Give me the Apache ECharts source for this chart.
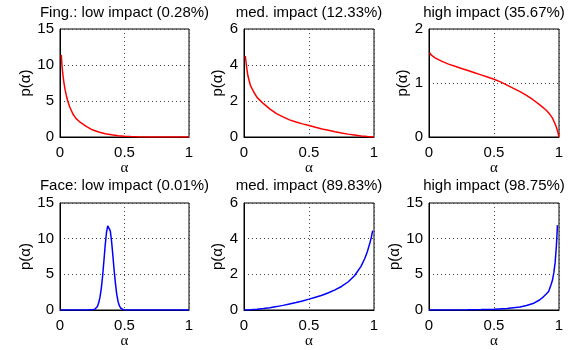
<!DOCTYPE html>
<html>
<head>
<meta charset="utf-8">
<script src="https://cdn.jsdelivr.net/npm/echarts@6/dist/echarts.min.js"></script>
<style>
html,body{margin:0;padding:0;background:#fff;}
#chart{width:582px;height:350px;}
</style>
</head>
<body>
<div id="chart"></div>
<script>
// ---- Data ----
const titles = [
  "Fing.: low impact (0.28%)", "med. impact (12.33%)", "high impact (35.67%)",
  "Face: low impact (0.01%)", "med. impact (89.83%)", "high impact (98.75%)"
];
const xTickValues = [0, 0.5, 1];
const yMaxes = [15, 6, 2, 15, 6, 15];
const yIntervals = [5, 2, 1, 5, 2, 5];
const yLabel = "p(α)";
const xLabel = "α";

// Fingerprint, low impact
const fingLowAlpha = [0.01,0.015,0.02,0.03,0.04,0.05,0.06,0.075,0.1,0.125,0.15,0.2,0.25,0.3,0.35,0.4,0.45,0.5,0.55,0.6,0.7,0.8,0.9,1.0];
const fingLowP     = [11.4,10.0,9.0,7.6,6.5,5.7,5.0,4.2,3.2,2.55,2.15,1.5,1.0,0.7,0.46,0.3,0.18,0.11,0.065,0.035,0.01,0.002,0,0];
// Fingerprint, medium impact
const fingMedAlpha = [0.01,0.02,0.03,0.05,0.075,0.1,0.15,0.2,0.25,0.3,0.35,0.4,0.45,0.5,0.55,0.6,0.65,0.7,0.75,0.8,0.85,0.9,0.95,0.99,1.0];
const fingMedP     = [4.5,3.9,3.4,2.85,2.5,2.2,1.85,1.55,1.3,1.12,0.95,0.83,0.73,0.64,0.54,0.45,0.37,0.29,0.22,0.16,0.11,0.06,0.025,0.003,0];
// Fingerprint, high impact
const fingHighAlpha = [0.005,0.02,0.05,0.1,0.15,0.2,0.25,0.3,0.35,0.4,0.45,0.5,0.55,0.6,0.65,0.7,0.75,0.8,0.85,0.9,0.93,0.95,0.97,0.98,0.99,1.0];
const fingHighP     = [1.56,1.51,1.46,1.40,1.35,1.31,1.27,1.23,1.19,1.15,1.11,1.07,1.02,0.96,0.90,0.84,0.77,0.69,0.60,0.50,0.42,0.35,0.24,0.18,0.10,0];
// Face, low impact
const faceLowAlpha = [0,0.2,0.25,0.27,0.28,0.29,0.30,0.31,0.32,0.33,0.34,0.35,0.36,0.37,0.376,0.38,0.39,0.40,0.41,0.42,0.43,0.44,0.45,0.46,0.47,0.48,0.49,0.50,0.52,0.6,1.0];
const faceLowP     = [0,0,0.02,0.1,0.25,0.5,1.0,1.8,3.0,4.7,6.8,9.0,10.8,11.8,12.0,11.9,11.1,9.6,7.6,5.5,3.7,2.2,1.2,0.6,0.28,0.12,0.05,0.02,0,0,0];
// Face, medium impact
const faceMedAlpha = [0,0.05,0.1,0.15,0.2,0.25,0.3,0.35,0.4,0.45,0.5,0.55,0.6,0.65,0.7,0.75,0.8,0.85,0.9,0.93,0.95,0.97,0.98,0.99];
const faceMedP     = [0,0.01,0.04,0.08,0.13,0.19,0.26,0.34,0.42,0.51,0.61,0.72,0.83,0.97,1.13,1.32,1.57,1.92,2.45,2.9,3.3,3.8,4.1,4.45];
// Face, high impact
const faceHighAlpha = [0,0.1,0.2,0.3,0.4,0.5,0.6,0.7,0.75,0.8,0.85,0.88,0.9,0.92,0.94,0.95,0.96,0.97,0.98,0.985,0.988];
const faceHighP     = [0,0,0.01,0.03,0.06,0.1,0.22,0.42,0.62,0.9,1.4,1.85,2.2,2.6,3.6,4.2,5.2,6.6,9.0,10.8,11.9];

const seriesAlpha = [fingLowAlpha, fingMedAlpha, fingHighAlpha, faceLowAlpha, faceMedAlpha, faceHighAlpha];
const seriesP = [fingLowP, fingMedP, fingHighP, faceLowP, faceMedP, faceHighP];
const seriesColors = ['#ff0000','#ff0000','#ff0000','#0000ff','#0000ff','#0000ff'];

// ---- Layout ----
const colLeft = [60, 244, 429];
const colWidth = [129, 130, 130];
const rowTop = [29, 203];
const rowHeight = [108, 107];
const titleTop = [5, 178];
const yNameGap = [27, 16, 16, 27, 16, 16];
const FONT = "'Liberation Sans', Arial, Helvetica, sans-serif";

const chart = echarts.init(document.getElementById('chart'), null, {renderer:'canvas'});
const grids = [], xAxes = [], yAxes = [], series = [], titleOpts = [];
for (let i = 0; i < 6; i++) {
  const c = i % 3, r = Math.floor(i / 3);
  grids.push({left: colLeft[c], top: rowTop[r], width: colWidth[c], height: rowHeight[r],
    show: true, borderColor: '#000', borderWidth: 1, backgroundColor: '#fff', containLabel: false});
  titleOpts.push({text: titles[i], left: colLeft[c] + colWidth[c] / 2, top: titleTop[r], textAlign: 'center',
    padding: 0, textStyle: {fontSize: 15, fontWeight: 'normal', color: '#000', fontFamily: FONT}});
  xAxes.push({gridIndex: i, type: 'value', min: xTickValues[0], max: xTickValues[xTickValues.length - 1],
    interval: xTickValues[1] - xTickValues[0],
    axisLine: {show: true, onZero: false, lineStyle: {color: '#000', width: 1}},
    axisTick: {show: false},
    axisLabel: {margin: 8, color: '#000', fontSize: 15, fontFamily: FONT},
    splitLine: {show: true, lineStyle: {color: '#444', type: [1, 3], width: 1}},
    name: xLabel, nameLocation: 'middle', nameGap: 22,
    nameTextStyle: {color: '#000', fontSize: 15, fontFamily: "'Liberation Serif', 'DejaVu Serif', serif"}});
  yAxes.push({gridIndex: i, type: 'value', min: 0, max: yMaxes[i], interval: yIntervals[i],
    axisLine: {show: true, onZero: false, lineStyle: {color: '#000', width: 1}},
    axisTick: {show: false},
    axisLabel: {margin: 6, color: '#000', fontSize: 15, fontFamily: FONT},
    splitLine: {show: true, lineStyle: {color: '#444', type: [1, 3], width: 1}},
    name: yLabel, nameLocation: 'middle', nameGap: yNameGap[i], nameRotate: 90,
    nameTextStyle: {color: '#000', fontSize: 15, fontFamily: FONT}});
  series.push({type: 'line', xAxisIndex: i, yAxisIndex: i, showSymbol: false, smooth: false,
    data: seriesAlpha[i].map((a, k) => [a, seriesP[i][k]]),
    lineStyle: {color: seriesColors[i], width: 1.5}, itemStyle: {color: seriesColors[i]}, z: 5});
}
chart.setOption({animation: false, backgroundColor: '#fff', title: titleOpts, grid: grids,
  xAxis: xAxes, yAxis: yAxes, series: series});
</script>
</body>
</html>
